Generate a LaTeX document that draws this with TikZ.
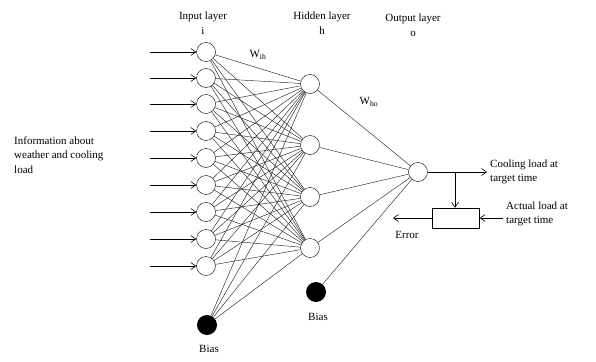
\documentclass[tikz,border=0pt]{standalone}
\usepackage{fontspec}
\setmainfont{Liberation Serif}
\usetikzlibrary{arrows.meta}
\begin{document}
\begin{tikzpicture}[x=1pt,y=-1pt,
  neuron/.style={circle,draw,thin,minimum size=19pt,inner sep=0pt},
  bias/.style={circle,fill=black,minimum size=20pt,inner sep=0pt},
  lbl/.style={font=\fontsize{11}{14.5}\selectfont,inner sep=0pt},
  wire/.style={draw,line width=0.45pt,black!85},
  arr/.style={draw,line width=0.6pt,-{Straight Barb[length=5pt,width=7pt]}}]
\useasboundingbox (0,0) rectangle (596,361);
% input layer
\foreach \i/\y in {1/52,2/78,3/104,4/131,5/158,6/185,7/212,8/239,9/266}{
  \node[neuron] (i\i) at (206,\y) {};
  \coordinate (s\i) at (150,\y);
}
\node[bias] (bi) at (207,325) {};
% hidden layer
\foreach \j/\y in {1/84,2/145,3/197,4/248}{
  \node[neuron] (h\j) at (310,\y) {};
}
\node[bias] (bh) at (316,292) {};
% output
\node[neuron] (o) at (418,172) {};
% connections
\foreach \i in {1,...,9}{
  \foreach \j in {1,...,4}{ \draw[wire] (i\i) -- (h\j); }
  \draw[arr] (s\i) -- (i\i);
}
\foreach \j in {1,...,4}{ \draw[wire] (bi) -- (h\j); \draw[wire] (h\j) -- (o); }
\draw[wire] (bh) -- (o);
% output stage
\coordinate (oe) at (487,172);
\coordinate (tap) at (455,172);
\node[draw,thin,minimum width=47pt,minimum height=20pt,inner sep=0pt] (box) at (456,218) {};
\coordinate (ae) at (503,218);
\coordinate (ee) at (393,218);
\draw[arr] (o) -- (oe);
\draw[arr] (tap) -- (tap |- box.north);
\draw[arr] (ae) -- (box.east);
\draw[arr] (box.west) -- (ee);
% labels
\node[lbl,align=center] (tin) at (203,23) {Input layer\\i};
\node[lbl,align=center] (thid) at (322,23) {Hidden layer\\h};
\node[lbl,align=center] (tout) at (413,25) {Output layer\\o};
\node[lbl] (wih) at (258,55) {W\textsubscript{ih}};
\node[lbl] (who) at (369,102) {W\textsubscript{ho}};
\node[lbl,align=left,anchor=west] (info) at (14,155) {Information about\\weather and cooling\\load};
\node[lbl,align=left,anchor=west] (cool) at (490,172) {Cooling load at\\target time};
\node[lbl,align=left,anchor=west] (act) at (506,214) {Actual load at\\target time};
\node[lbl] (err) at (407,235) {Error};
\node[lbl] (b1) at (209,349) {Bias};
\node[lbl] (b2) at (318,317) {Bias};
\end{tikzpicture}
\end{document}
